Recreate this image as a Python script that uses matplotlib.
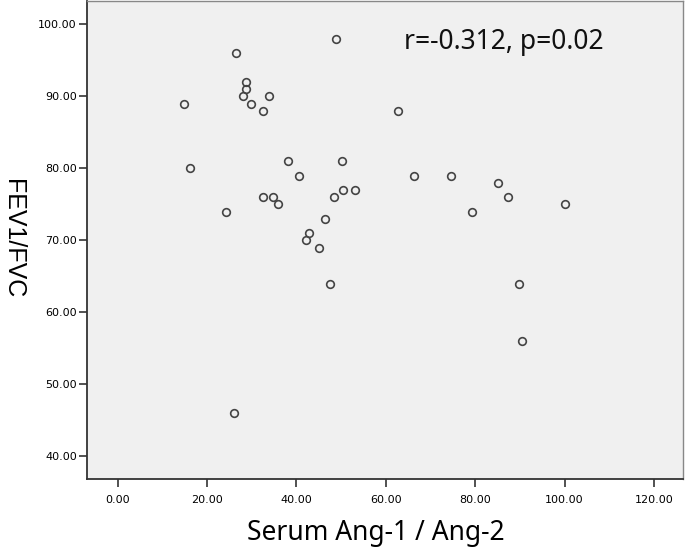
import matplotlib
matplotlib.use("Agg")
import matplotlib.pyplot as plt

# Serum Ang-1 / Ang-2 vs FEV1/FVC
ang_ratio = [26.4, 48.8, 28.7, 28.7, 28.1, 33.8, 14.8, 29.8, 32.6, 16.1,
             38.0, 50.1, 40.6, 32.5, 34.7, 35.8, 48.4, 50.5, 53.0, 24.2,
             46.5, 42.8, 42.1, 45.1, 47.4, 26.1, 62.8, 66.3, 74.5, 85.0,
             87.4, 79.3, 100.2, 89.7, 90.4]
fev1_fvc = [96, 98, 92, 91, 90, 90, 89, 89, 88, 80,
            81, 81, 79, 76, 76, 75, 76, 77, 77, 74,
            73, 71, 70, 69, 64, 46, 88, 79, 79, 78,
            76, 74, 75, 64, 56]

x_ticks = [0, 20, 40, 60, 80, 100, 120]
y_ticks = [40, 50, 60, 70, 80, 90, 100]

W, H = 685, 548
fig = plt.figure(figsize=(W / 100, H / 100), dpi=100)
ax = fig.add_axes([0.1275, 0.1254, 0.8695, 0.872])
ax.set_facecolor("#f0f0f0")

ax.plot(ang_ratio, fev1_fvc, linestyle="none", marker="o", markersize=5.5,
        markerfacecolor="none", markeredgecolor="#444444", markeredgewidth=1.2)

ax.set_xlim(-6.8, 126.5)
ax.set_ylim(36.8, 103.2)
ax.set_xticks(x_ticks)
ax.set_yticks(y_ticks)
ax.set_xticklabels([f"{v:.2f}" for v in x_ticks], fontsize=8)
ax.set_yticklabels([f"{v:.2f}" for v in y_ticks], fontsize=8)
ax.tick_params(direction="out", length=6, width=1.2, color="#333333")
ax.tick_params(axis="x", pad=5)
ax.tick_params(axis="y", pad=1.5)

for side in ["left", "bottom"]:
    ax.spines[side].set_color("#333333")
    ax.spines[side].set_linewidth(1.3)
for side in ["top", "right"]:
    ax.spines[side].set_color("#888888")
    ax.spines[side].set_linewidth(1.0)

# axis titles placed in figure pixels
fig.text(376 / W, (H - 540) / H, "Serum Ang-1 / Ang-2", fontsize=19,
         family=["Noto Sans", "DejaVu Sans"], ha="center", va="baseline")
fig.text(13 / W, (H - 239) / H, "FEV1/FVC", fontsize=18, rotation=-90,
         family=["Liberation Sans", "DejaVu Sans"], ha="center", va="center")

fig.text(404 / W, (H - 42) / H, "r=-0.312, p=0.02", fontsize=19,
         family=["Noto Sans", "DejaVu Sans"], ha="left", va="center", color="#111111")

fig.savefig("out.png", dpi=100)
